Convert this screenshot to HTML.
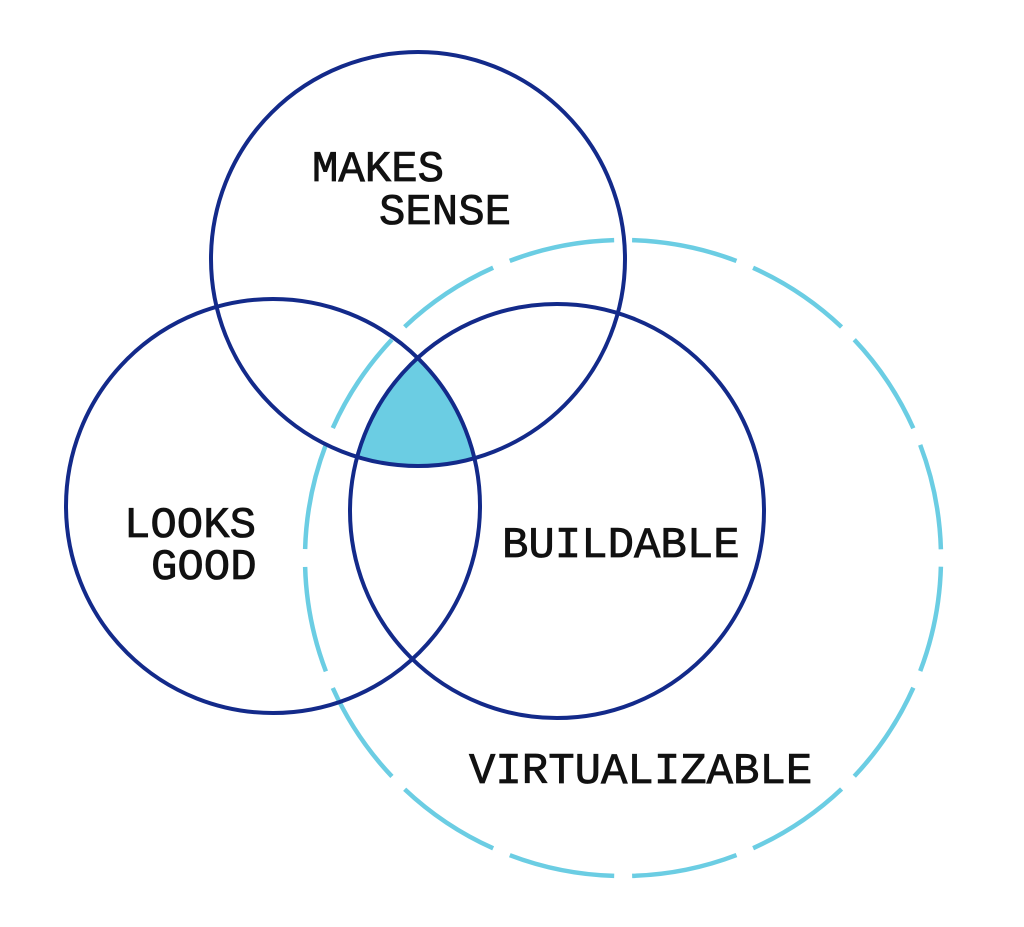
<!DOCTYPE html>
<html><head><style>
html,body{margin:0;padding:0;background:#fff;}
svg{display:block;}
text{font-family:"Liberation Mono",monospace;font-weight:normal;font-size:44px;fill:#111;stroke:#111;stroke-width:0.8px;}
</style></head><body>
<svg width="1024" height="927" viewBox="0 0 1024 927" xmlns="http://www.w3.org/2000/svg">
<defs>
<clipPath id="c1"><circle cx="418" cy="259" r="207"/></clipPath>
<clipPath id="c2"><circle cx="273" cy="506" r="207"/></clipPath>
</defs>
<g clip-path="url(#c1)"><g clip-path="url(#c2)"><circle cx="557" cy="511" r="207" fill="#6bcde3"/></g></g>
<circle cx="623" cy="558" r="318" fill="none" stroke="#6bcde3" stroke-width="4.5" stroke-dasharray="106.9 18" stroke-dashoffset="116.2"/>
<g fill="none" stroke="#132a8a" stroke-width="4">
<circle cx="418" cy="259" r="207"/>
<circle cx="273" cy="506" r="207"/>
<circle cx="557" cy="511" r="207"/>
</g>
<text x="312" y="181">MAKES</text>
<text x="379" y="224">SENSE</text>
<text x="124" y="537">LOOKS</text>
<text x="151" y="579">GOOD</text>
<text x="502" y="557">BUILDABLE</text>
<text x="469" y="783">VIRTUALIZABLE</text>
</svg>
</body></html>
